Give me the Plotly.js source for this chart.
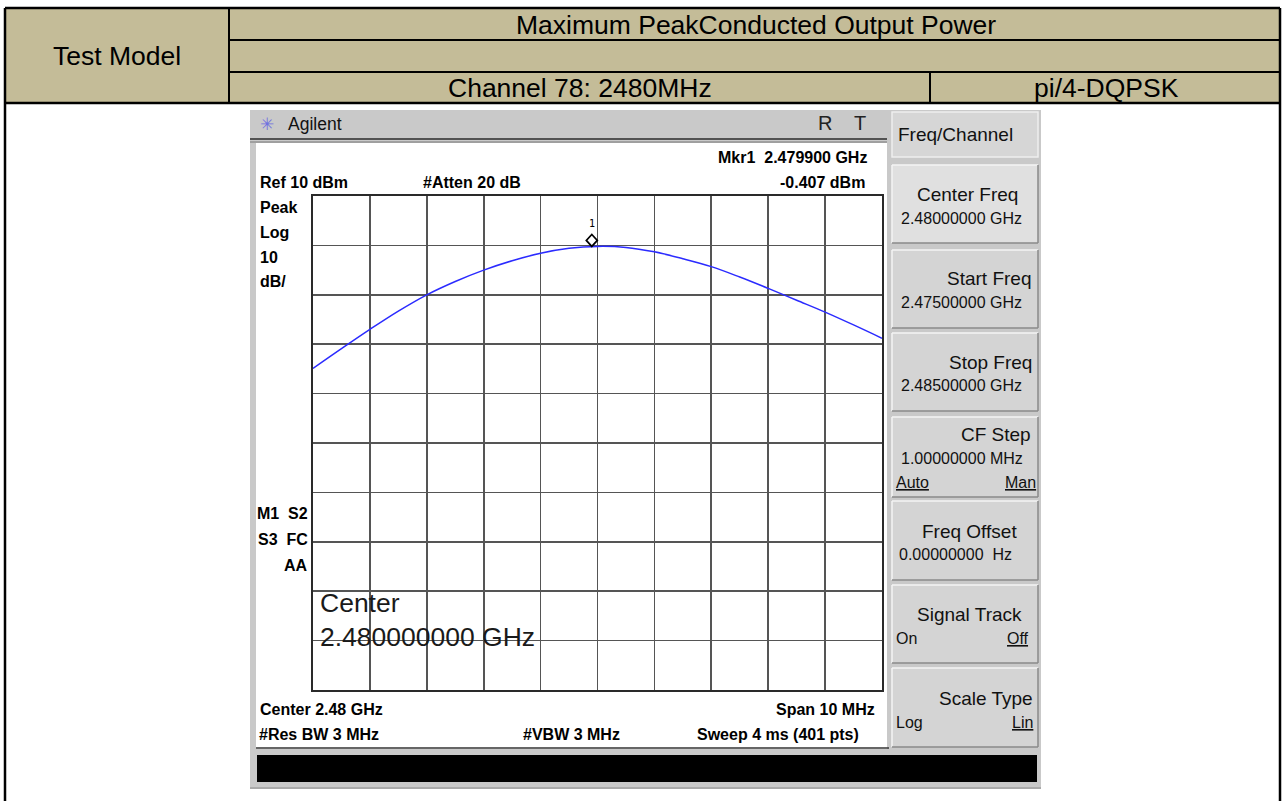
<!DOCTYPE html>
<html><head><meta charset="utf-8">
<script src="https://cdn.plot.ly/plotly-3.0.1.min.js"></script>
<style>html,body{margin:0;padding:0;background:#fff;}#chart{width:1285px;height:801px;}</style>
</head><body><div id="chart"></div>
<script>
// ---- data ----
const freqGHz = [2.4750, 2.4755, 2.4760, 2.4765, 2.4770, 2.4775, 2.4780, 2.4785, 2.4790, 2.4795, 2.4800,
                 2.4805, 2.4810, 2.4815, 2.4820, 2.4825, 2.4830, 2.4835, 2.4840, 2.4845, 2.4850];
const powerDbm = [-24.9, -20.9, -17.0, -13.3, -10.0, -7.3, -5.0, -3.1, -1.6, -0.6, -0.2,
                  -0.4, -1.3, -2.7, -4.3, -6.4, -8.7, -11.1, -13.5, -16.1, -18.8];
const markerFreqGHz = [2.4799];
const markerPowerDbm = [-0.407];
const markerLabel = ['1'];
const freqRange = [2.475, 2.485];
const powerRange = [-90, 10];
const tableTexts = ['Test Model', 'Maximum PeakConducted Output Power', 'Channel 78: 2480MHz', 'pi/4-DQPSK'];

// ---- geometry helpers (pixel -> paper) ----
const W = 1285, H = 801, L = 313, R = 882, T = 196, B = 690;
const px = X => (X - L) / (R - L);
const py = Y => (B - Y) / (B - T);
const SANS = 'Liberation Sans, Arial, Helvetica, sans-serif';

const shapes = [];
const annotations = [];
function rect(x0, y0, x1, y1, fill, layer, lc, lw) {
  shapes.push({type: 'rect', xref: 'paper', yref: 'paper', x0: px(x0), x1: px(x1), y0: py(y1), y1: py(y0),
    fillcolor: fill, line: {width: lw || 0, color: lc || 'rgba(0,0,0,0)'}, layer: layer || 'below'});
}
function seg(x0, y0, x1, y1, color, width, layer) {
  shapes.push({type: 'line', xref: 'paper', yref: 'paper', x0: px(x0), x1: px(x1), y0: py(y0), y1: py(y1),
    line: {color: color, width: width}, layer: layer || 'above'});
}
function txt(X, Y, s, o) {
  o = o || {};
  annotations.push({xref: 'paper', yref: 'paper', x: px(X), y: py(Y), text: s, showarrow: false,
    xanchor: o.anchor || 'left', yanchor: 'middle', borderpad: 0,
    font: {family: o.family || SANS, size: o.size || 18, color: o.color || '#111', weight: o.bold ? 700 : 400}});
}
function button(y0, y1, fill) {
  rect(892, y0, 1038, y1, fill, 'below');
  seg(892, y0, 1038, y0, '#f4f4f4', 1.5, 'below');
  seg(892, y0, 892, y1, '#f4f4f4', 1.5, 'below');
  seg(892, y1, 1038, y1, '#8a8a8a', 1.5, 'below');
  seg(1038, y0, 1038, y1, '#8a8a8a', 1.5, 'below');
}

// ---- table header ----
rect(5, 8, 1280, 103, '#C4BC98', 'below');
seg(5, 8, 1280, 8, '#000', 2.5);
seg(5, 8, 5, 801, '#000', 2.5);
seg(1280, 8, 1280, 801, '#000', 2.5);
seg(5, 103, 1280, 103, '#000', 2.5);
seg(229, 8, 229, 103, '#000', 2);
seg(229, 40, 1280, 40, '#000', 2);
seg(229, 72, 1280, 72, '#000', 2);
seg(930, 72, 930, 103, '#000', 2);
const tf = {anchor: 'center', size: 26.5, color: '#000'};
txt(117, 56, tableTexts[0], tf);
txt(756, 25, tableTexts[1], tf);
txt(580, 88, tableTexts[2], tf);
txt(1106, 88, tableTexts[3], tf);

// ---- analyzer frame ----
rect(250, 110, 1041, 789, '#c9c9c9', 'below');
rect(256, 143, 887, 749, '#ffffff', 'below');
seg(250, 139, 887, 139, '#2a2a2a', 1.5, 'below');
seg(250, 142, 887, 142, '#777', 1, 'below');
seg(256, 748, 889, 748, '#333', 1.5, 'below');
rect(257, 755, 1037, 782, '#000000', 'below');
seg(250, 788, 1041, 788, '#8a8a8a', 1, 'below');
txt(267, 124, '✳', {anchor: 'center', size: 17, color: '#7070e0', family: 'DejaVu Sans'});
txt(287, 124, 'Agilent', {size: 17.5, color: '#111'});
txt(825, 123, 'R', {anchor: 'center', size: 20, color: '#222'});
txt(860, 123, 'T', {anchor: 'center', size: 20, color: '#222'});

// display labels (bold)
const bl = {bold: true, size: 16, color: '#000'};
const br = Object.assign({anchor: 'right'}, bl);
txt(868, 157, 'Mkr1&nbsp; 2.479900 GHz', br);
txt(259, 183, 'Ref 10 dBm', bl);
txt(422, 183, '#Atten 20 dB', bl);
txt(866, 183, '-0.407 dBm', br);
txt(259, 207, 'Peak', bl);
txt(259, 232, 'Log', bl);
txt(259, 257, '10', bl);
txt(259, 281, 'dB/', bl);
txt(309, 513, 'M1&nbsp; S2', br);
txt(309, 539, 'S3&nbsp; FC', br);
txt(309, 565, 'AA', br);
txt(259, 709, 'Center 2.48 GHz', bl);
txt(258, 734, '#Res BW 3 MHz', bl);
txt(522, 734, '#VBW 3 MHz', bl);
txt(876, 709, 'Span 10 MHz', br);
txt(860, 734, 'Sweep 4 ms (401 pts)', br);
txt(319, 603, 'Center', {size: 26.5, color: '#1a1a1a'});
txt(319, 637, '2.480000000 GHz', {size: 26.5, color: '#1a1a1a'});

// ---- soft-key panel ----
rect(892, 112, 1038, 157, '#d6d6d6', 'below', '#eeeeee', 1.5);
txt(897, 135, 'Freq/Channel', {size: 19, color: '#111'});
button(165, 243, '#e0e0e0');
button(250, 328, '#d4d4d4');
button(333, 411, '#d4d4d4');
button(417, 497, '#d4d4d4');
button(501, 580, '#d4d4d4');
button(585, 663, '#d4d4d4');
button(668, 747, '#d4d4d4');
const tt = {size: 19, color: '#111'};
const ttr = Object.assign({anchor: 'right'}, tt);
const tv = {size: 16, color: '#111'};
const tvr = Object.assign({anchor: 'right'}, tv);
txt(1019, 195, 'Center Freq', ttr);
txt(900, 218, '2.48000000 GHz', tv);
txt(1032, 278, 'Start Freq', ttr);
txt(900, 302, '2.47500000 GHz', tv);
txt(1033, 362, 'Stop Freq', ttr);
txt(900, 385, '2.48500000 GHz', tv);
txt(1032, 434, 'CF Step', ttr);
txt(900, 458, '1.00000000 MHz', tv);
txt(895, 482, '<u>Auto</u>', tv);
txt(1037, 482, '<u>Man</u>', tvr);
txt(1018, 531, 'Freq Offset', ttr);
txt(898, 554, '0.00000000&nbsp; Hz', tv);
txt(1023, 614, 'Signal Track', ttr);
txt(895, 638, 'On', tv);
txt(1030, 638, '<u>Off</u>', tvr);
txt(1034, 698, 'Scale Type', ttr);
txt(895, 722, 'Log', tv);
txt(1034, 722, '<u>Lin</u>', tvr);

// ---- marker (anchored to data) ----
shapes.push({type: 'path', xref: 'x', yref: 'y', xsizemode: 'pixel', ysizemode: 'pixel',
  xanchor: markerFreqGHz[0], yanchor: markerPowerDbm[0], path: 'M0,1 L5.5,7 L0,13 L-5.5,7 Z',
  line: {color: '#000', width: 1.7}, fillcolor: 'rgba(255,255,255,0)', layer: 'above'});
annotations.push({xref: 'x', yref: 'y', x: markerFreqGHz[0], y: markerPowerDbm[0], yshift: 24,
  text: markerLabel[0], showarrow: false, font: {family: 'DejaVu Sans Mono', size: 10, color: '#000'}});

const traces = [{
  x: freqGHz, y: powerDbm, type: 'scatter', mode: 'lines',
  line: {color: '#2b2bff', width: 1.5, shape: 'spline', smoothing: 1}, hoverinfo: 'skip'
}];

const layout = {
  width: W, height: H,
  margin: {l: L, r: W - R, t: T, b: H - B, pad: 0},
  paper_bgcolor: '#ffffff', plot_bgcolor: 'rgba(0,0,0,0)',
  showlegend: false,
  xaxis: {range: freqRange, tick0: 2.475, dtick: 0.001, showticklabels: false, ticks: '',
    showgrid: true, gridcolor: '#555', gridwidth: 1.6, zeroline: false,
    showline: true, mirror: true, linecolor: '#2a2a2a', linewidth: 2.2, fixedrange: true},
  yaxis: {range: powerRange, dtick: 10, showticklabels: false, ticks: '',
    showgrid: true, gridcolor: '#555', gridwidth: 1.6, zeroline: false,
    showline: true, mirror: true, linecolor: '#2a2a2a', linewidth: 2.2, fixedrange: true},
  shapes: shapes, annotations: annotations
};
Plotly.newPlot('chart', traces, layout, {displayModeBar: false, staticPlot: true});
</script></body></html>
